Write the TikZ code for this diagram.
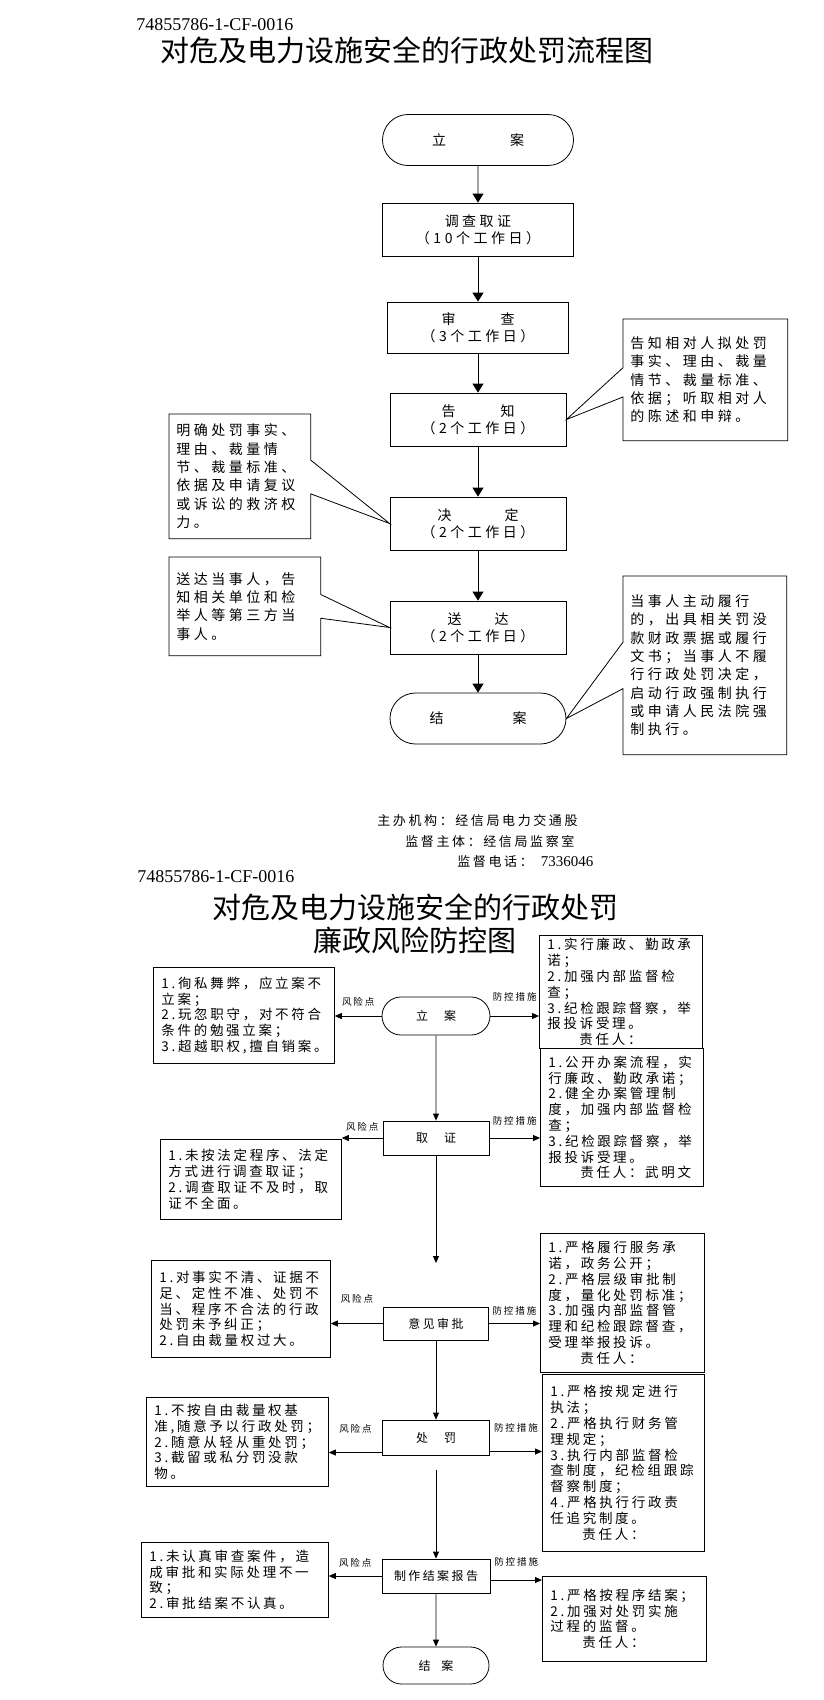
\documentclass[tikz,border=0pt]{standalone}
\usepackage{fontspec}
\setmainfont{Liberation Serif}
\newfontfamily\hei{Noto Sans CJK SC}
\newfontfamily\song[LetterSpace=25]{Noto Sans CJK SC}
\newfontfamily\fang[LetterSpace=20]{Noto Sans CJK SC}
\usetikzlibrary{arrows.meta,shapes.misc,calc}

\begin{document}
\begin{tikzpicture}[x=1pt, y=-1pt, thick,
            stepbox/.style = {draw, minimum width=176pt, minimum height=53pt,
                inner sep=0pt, align=center,
                font=\song\fontsize{14}{17}\selectfont},
            endbox/.style = {stepbox, rounded rectangle},
            note/.style = {anchor=north west, inner sep=7pt, align=left,
                font=\song\fontsize{14}{18.3}\selectfont},
            flow/.style = {-{Triangle[length=9pt,width=11pt]}},
            cbox/.style = {draw, minimum width=106pt, minimum height=34pt,
                inner sep=0pt, font=\fang\fontsize{12}{14}\selectfont},
            cend/.style = {cbox, rounded rectangle},
            risk/.style = {draw, fill=white, anchor=north west,
                inner xsep=8pt, inner ysep=3pt, align=left,
                font=\fang\fontsize{13.5}{15.8}\selectfont},
            tag/.style = {inner sep=1pt, font=\fang\fontsize{9.5}{11}\selectfont},
            link/.style = {-{Triangle[length=7pt,width=6pt]}},
            code/.style = {anchor=west, inner sep=0pt,
                font=\fontsize{18}{20}\selectfont},
            head/.style = {align=center, inner sep=0pt,
                font=\hei\fontsize{29}{33}\selectfont},
            info/.style = {anchor=west, inner sep=0pt,
                font=\fang\fontsize{13}{15}\selectfont}]

        \fill[white] (0,0) rectangle (823,1700);
        \useasboundingbox (0,0) rectangle (823,1700);

        % Flow chart title
        \node[code] (code1) at (136,25) {74855786-1-CF-0016};
        \node[head] (title1) at (407,50) {对危及电力设施安全的行政处罚流程图};

        % Steps
        \node[endbox, minimum width=191pt, minimum height=51pt] (open) at (478,140) {立\hspace{64pt}案};
        \node[stepbox, minimum width=191pt] (probe) at (478,229.5) {调查取证\\（10个工作日）};
        \node[stepbox, minimum width=181pt, minimum height=51pt] (check) at (478,327.5) {审\hspace{45pt}查\\（3个工作日）};
        \node[stepbox] (notify) at (478,419.5) {告\hspace{45pt}知\\（2个工作日）};
        \node[stepbox] (decide) at (478,523.5) {决\hspace{53pt}定\\（2个工作日）};
        \node[stepbox] (serve) at (478,627.5) {送\hspace{33pt}达\\（2个工作日）};
        \node[endbox, minimum height=51pt] (close) at (478,718.5) {结\hspace{69pt}案};

        \draw[flow] (open) -- (probe);
        \draw[flow] (probe) -- (check);
        \draw[flow] (check) -- (notify);
        \draw[flow] (notify) -- (decide);
        \draw[flow] (decide) -- (serve);
        \draw[flow] (serve) -- (close);

        % Notes
        \node[note, text width=150pt, minimum height=121pt] (notifynote) at (623,319)
            {告知相对人拟处罚\\事实、理由、裁量\\情节、裁量标准、\\依据；听取相对人\\的陈述和申辩。};
        \draw (notifynote.north west) -- (notifynote.north east) -- (notifynote.south east)
            -- (notifynote.south west) -- ($(notifynote.north west)!0.64!(notifynote.south west)$)
            -- (notify.east) -- ($(notifynote.north west)!0.40!(notifynote.south west)$) -- cycle;

        \node[note, text width=127pt, minimum height=124pt] (decidenote) at (169,414)
            {明确处罚事实、\\理由、裁量情\\节、裁量标准、\\依据及申请复议\\或诉讼的救济权\\力。};
        \draw (decidenote.north west) -- (decidenote.north east)
            -- ($(decidenote.north east)!0.37!(decidenote.south east)$) -- (decide.west)
            -- ($(decidenote.north east)!0.64!(decidenote.south east)$)
            -- (decidenote.south east) -- (decidenote.south west) -- cycle;

        \node[note, text width=137pt, minimum height=98pt] (servenote) at (169,557)
            {送达当事人，告\\知相关单位和检\\举人等第三方当\\事人。};
        \draw (servenote.north west) -- (servenote.north east)
            -- ($(servenote.north east)!0.38!(servenote.south east)$) -- (serve.west)
            -- ($(servenote.north east)!0.62!(servenote.south east)$)
            -- (servenote.south east) -- (servenote.south west) -- cycle;

        \node[note, text width=149pt, minimum height=178pt] (closenote) at (623,576)
            {当事人主动履行\\的，出具相关罚没\\款财政票据或履行\\文书；当事人不履\\行行政处罚决定，\\启动行政强制执行\\或申请人民法院强\\制执行。};
        \draw (closenote.north west) -- (closenote.north east) -- (closenote.south east)
            -- (closenote.south west) -- ($(closenote.north west)!0.63!(closenote.south west)$)
            -- (close.east) -- ($(closenote.north west)!0.37!(closenote.south west)$) -- cycle;

        % Contacts
        \node[info] (org) at (377,821) {主办机构：经信局电力交通股};
        \node[info] (sup) at (405,842) {监督主体：经信局监察室};
        \node[info] (tel) at (457,862) {监督电话：\hspace{8pt}{\rmfamily\fontsize{15}{15}\selectfont 7336046}};

        % Risk chart title
        \node[code] (code2) at (137,877) {74855786-1-CF-0016};
        \node[head] (title2) at (415,923.5) {对危及电力设施安全的行政处罚\\廉政风险防控图};

        % Risk chart steps
        \node[cend, minimum width=108pt, minimum height=38pt] (lopen) at (436,1016) {立\hspace{16pt}案};
        \node[cbox] (lprobe) at (436,1138) {取\hspace{16pt}证};
        \node[cbox, minimum width=105pt, minimum height=33pt] (lreview) at (436,1323.5) {意见审批};
        \node[cbox, minimum width=107pt, minimum height=35pt] (lpunish) at (436,1437.5) {处\hspace{16pt}罚};
        \node[cbox, minimum width=108pt] (lreport) at (436,1576) {制作结案报告};
        \node[cend, minimum height=37pt] (lclose) at (436,1665.5) {结\hspace{11pt}案};

        % Risk points
        \node[risk, text width=165pt, minimum height=96pt] (risk1) at (153,967)
            {1.徇私舞弊，应立案不\\立案；\\2.玩忽职守，对不符合\\条件的勉强立案；\\3.超越职权,擅自销案。};
        \node[risk, text width=165pt, minimum height=80pt] (risk2) at (160,1139)
            {1.未按法定程序、法定\\方式进行调查取证；\\2.调查取证不及时，取\\证不全面。};
        \node[risk, text width=163pt, minimum height=97pt] (risk3) at (151,1260)
            {1.对事实不清、证据不\\足、定性不准、处罚不\\当、程序不合法的行政\\处罚未予纠正；\\2.自由裁量权过大。};
        \node[risk, text width=166pt, minimum height=89pt] (risk4) at (146,1397)
            {1.不按自由裁量权基\\准,随意予以行政处罚；\\2.随意从轻从重处罚；\\3.截留或私分罚没款\\物。};
        \node[risk, text width=171pt, minimum height=75pt] (risk5) at (141,1542)
            {1.未认真审查案件，造\\成审批和实际处理不一\\致；\\2.审批结案不认真。};

        % Measures
        \node[risk, text width=147pt, minimum height=113pt] (guard1) at (539,935)
            {1.实行廉政、勤政承\\诺；\\2.加强内部监督检\\查；\\3.纪检跟踪督察，举\\报投诉受理。\\\hspace*{32pt}责任人：};
        \node[risk, text width=147pt, minimum height=138pt] (guard2) at (540,1048)
            {1.公开办案流程，实\\行廉政、勤政承诺；\\2.健全办案管理制\\度，加强内部监督检\\查；\\3.纪检跟踪督察，举\\报投诉受理。\\\hspace*{32pt}责任人：武明文};
        \node[risk, text width=148pt, minimum height=139pt] (guard3) at (540,1233)
            {1.严格履行服务承\\诺，政务公开；\\2.严格层级审批制\\度，量化处罚标准；\\3.加强内部监督管\\理和纪检跟踪督查，\\受理举报投诉。\\\hspace*{32pt}责任人：};
        \node[risk, text width=146pt, minimum height=177pt] (guard4) at (542,1374)
            {1.严格按规定进行\\执法；\\2.严格执行财务管\\理规定；\\3.执行内部监督检\\查制度，纪检组跟踪\\督察制度；\\4.严格执行行政责\\任追究制度。\\\hspace*{32pt}责任人：};
        \node[risk, text width=148pt, minimum height=85pt] (guard5) at (542,1576)
            {1.严格按程序结案；\\2.加强对处罚实施\\过程的监督。\\\hspace*{32pt}责任人：};

        % Connectors
        \coordinate (gap1) at (436,1263);
        \coordinate (gap2) at (436,1470);
        \coordinate (pl) at ([yshift=-15pt]lpunish.west);
        \coordinate (pr) at ([yshift=-14pt]lpunish.east);
        \coordinate (rr) at ([yshift=-4pt]lreport.east);

        \draw[link] (lopen) -- (lprobe);
        \draw[link] (lprobe) -- (gap1);
        \draw[link] (lreview) -- (lpunish);
        \draw[link] (gap2) -- (lreport);
        \draw[link] (lreport) -- (lclose);

        \draw[link] (lopen.west) -- node[tag, above=8pt] {风险点} (lopen.west -| risk1.east);
        \draw[link] (lopen.east) -- node[tag, above=13pt] {防控措施} (lopen.east -| guard1.west);
        \draw[link] (lprobe.west) -- node[tag, above=5pt] {风险点} (lprobe.west -| risk2.east);
        \draw[link] (lprobe.east) -- node[tag, above=11pt] {防控措施} (lprobe.east -| guard2.west);
        \draw[link] (lreview.west) -- node[tag, above=19pt] {风险点} (lreview.west -| risk3.east);
        \draw[link] (lreview.east) -- node[tag, above=7pt] {防控措施} (lreview.east -| guard3.west);
        \draw[link] (pl) -- node[tag, above=18pt] {风险点} (pl -| risk4.east);
        \draw[link] (pr) -- node[tag, above=18pt] {防控措施} (pr -| guard4.west);
        \draw[link] (lreport.west) -- node[tag, above=7pt] {风险点} (lreport.west -| risk5.east);
        \draw[link] (rr) -- node[tag, above=12pt] {防控措施} (rr -| guard5.west);

\end{tikzpicture}
\end{document}
